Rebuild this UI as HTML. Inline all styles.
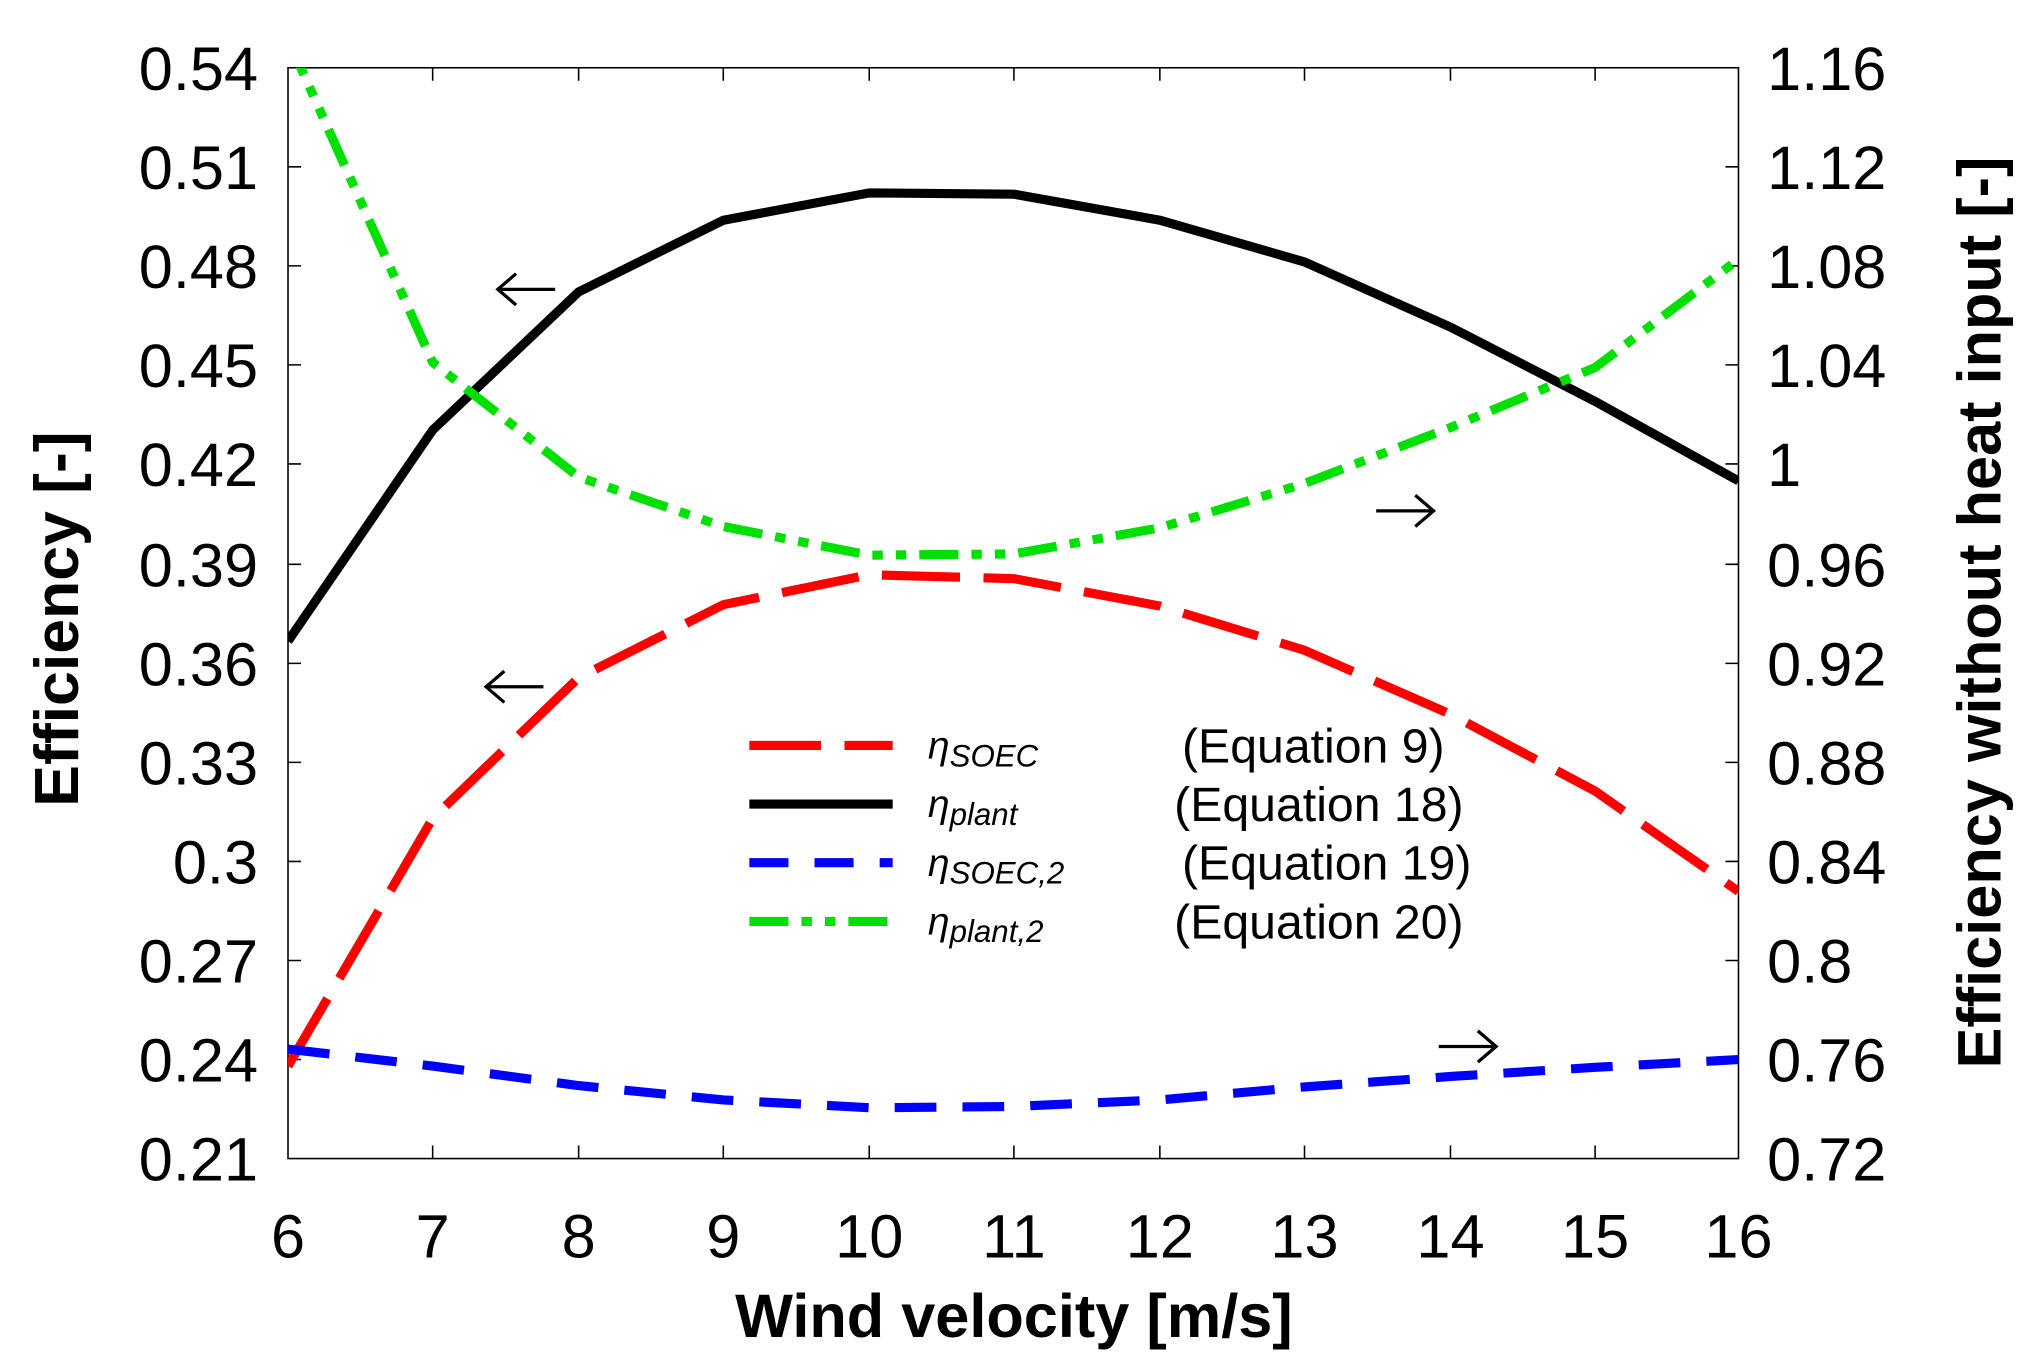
<!DOCTYPE html>
<html><head><meta charset="utf-8"><style>html,body{margin:0;padding:0;background:#fff}svg{display:block}</style></head>
<body>
<svg width="2033" height="1371" viewBox="0 0 1560 1052" preserveAspectRatio="none" xmlns="http://www.w3.org/2000/svg" font-family="'Liberation Sans', sans-serif">
<defs><clipPath id="c"><rect x="221" y="52" width="1113" height="837"/></clipPath></defs>
<rect x="221" y="52" width="1113" height="837" fill="none" stroke="#000" stroke-width="1.2"/>
<g stroke="#000" stroke-width="1.2">
<path d="M332,52v10M444,52v10M555,52v10M667,52v10M778,52v10M890,52v10M1001,52v10M1113,52v10M1224,52v10M332,889v-10M444,889v-10M555,889v-10M667,889v-10M778,889v-10M890,889v-10M1001,889v-10M1113,889v-10M1224,889v-10"/>
<path d="M221,128h10M221,204h10M221,280h10M221,356h10M221,433h10M221,509h10M221,585h10M221,661h10M221,737h10M221,813h10M1334,128h-10M1334,204h-10M1334,280h-10M1334,356h-10M1334,433h-10M1334,509h-10M1334,585h-10M1334,661h-10M1334,737h-10M1334,813h-10"/>
</g>
<g font-size="47" text-anchor="end">
<text x="198" y="69">0.54</text><text x="198" y="145">0.51</text><text x="198" y="221">0.48</text><text x="198" y="297">0.45</text><text x="198" y="373">0.42</text><text x="198" y="450">0.39</text><text x="198" y="526">0.36</text><text x="198" y="602">0.33</text><text x="198" y="678">0.3</text><text x="198" y="754">0.27</text><text x="198" y="830">0.24</text><text x="198" y="906">0.21</text>
</g>
<g font-size="47" text-anchor="start">
<text x="1356" y="69">1.16</text><text x="1356" y="145">1.12</text><text x="1356" y="221">1.08</text><text x="1356" y="297">1.04</text><text x="1356" y="373">1</text><text x="1356" y="450">0.96</text><text x="1356" y="526">0.92</text><text x="1356" y="602">0.88</text><text x="1356" y="678">0.84</text><text x="1356" y="754">0.8</text><text x="1356" y="830">0.76</text><text x="1356" y="906">0.72</text>
</g>
<g font-size="47" text-anchor="middle">
<text x="221" y="965">6</text><text x="332" y="965">7</text><text x="444" y="965">8</text><text x="555" y="965">9</text><text x="667" y="965">10</text><text x="778" y="965">11</text><text x="890" y="965">12</text><text x="1001" y="965">13</text><text x="1113" y="965">14</text><text x="1224" y="965">15</text><text x="1334" y="965">16</text>
</g>
<text x="778" y="1026" font-size="47" font-weight="bold" text-anchor="middle">Wind velocity [m/s]</text>
<text transform="translate(60,475) rotate(-90)" font-size="48" font-weight="bold" text-anchor="middle">Efficiency [-]</text>
<text transform="translate(1535,470) rotate(-90)" font-size="47" font-weight="bold" text-anchor="middle">Efficiency without heat input [-]</text>
<g clip-path="url(#c)" fill="none" stroke-width="7">
<polyline stroke="#000" points="221,492 332,330 444,224 555,169 667,148 778,149 890,169 1001,201 1113,251 1224,308 1334,369"/>
<polyline stroke="#ff0000" stroke-dasharray="60,18" points="221,818 332,628 444,520 555,464 667,441 778,444 890,465 1001,499 1113,548 1224,607 1334,684"/>
<polyline stroke="#00e000" stroke-dasharray="30,10,8,10,8,10" points="221,30 332,278 444,366 555,404 667,426 778,425 890,405 1001,371 1113,328 1224,282 1334,199"/>
<polyline stroke="#0000ff" stroke-dasharray="32,20" points="221,805 332,818 444,833 555,844 667,850 778,849 890,844 1001,834 1113,826 1224,819 1334,813"/>
</g>
<g fill="none" stroke="#000" stroke-width="2.5">
<path d="M382,222h44M396,210l-14,12l14,12"/>
<path d="M373,527h44M387,515l-14,12l14,12"/>
<path d="M1056,392h44M1086,380l14,12l-14,12"/>
<path d="M1104,803h44M1134,791l14,12l-14,12"/>
</g>
<g fill="none" stroke-width="7">
<line x1="575" y1="572" x2="685" y2="572" stroke="#ff0000" stroke-dasharray="55,18"/>
<line x1="575" y1="617" x2="685" y2="617" stroke="#000"/>
<line x1="575" y1="662" x2="685" y2="662" stroke="#0000ff" stroke-dasharray="30,20"/>
<line x1="575" y1="707" x2="685" y2="707" stroke="#00e000" stroke-dasharray="30,10,8,10,8,10"/>
</g>
<g font-size="30" font-style="italic">
<text x="712" y="582">η<tspan font-size="24" dy="6">SOEC</tspan></text>
<text x="712" y="627">η<tspan font-size="24" dy="6">plant</tspan></text>
<text x="712" y="672">η<tspan font-size="24" dy="6">SOEC,2</tspan></text>
<text x="712" y="717">η<tspan font-size="24" dy="6">plant,2</tspan></text>
</g>
<g font-size="37">
<text x="907" y="585">(Equation 9)</text>
<text x="901" y="630">(Equation 18)</text>
<text x="907" y="675">(Equation 19)</text>
<text x="901" y="720">(Equation 20)</text>
</g>
</svg>
</body></html>
